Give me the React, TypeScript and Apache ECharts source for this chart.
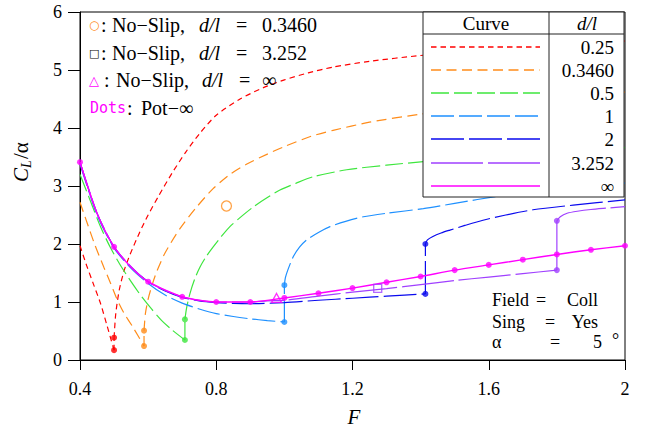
import React, { useEffect, useRef } from "react";
import * as echarts from "echarts";

// ---- Data ----
// d/l = 0.25 (red)
const redLeftF = [0.4, 0.42, 0.44, 0.46, 0.48, 0.5];
const redLeftY = [1.97, 1.62, 1.3, 0.98, 0.58, 0.17];
const redRightF = [0.5, 0.505, 0.515, 0.53, 0.547, 0.575, 0.6, 0.63, 0.67, 0.71, 0.752, 0.8, 0.87, 0.94, 1.0, 1.07, 1.143, 1.25, 1.4, 1.6, 1.8, 2.0];
const redRightY = [0.385, 0.8, 1.2, 1.55, 1.82, 2.2, 2.5, 2.82, 3.22, 3.58, 3.91, 4.22, 4.5, 4.7, 4.83, 4.95, 5.05, 5.15, 5.25, 5.35, 5.43, 5.5];

// d/l = 0.3460 (orange)
const orangeLeftF = [0.4, 0.42, 0.444, 0.47, 0.49, 0.51, 0.53, 0.556, 0.588];
const orangeLeftY = [2.72, 2.38, 1.98, 1.6, 1.32, 1.03, 0.8, 0.56, 0.24];
const orangeRightF = [0.588, 0.592, 0.6, 0.612, 0.625, 0.65, 0.694, 0.74, 0.79, 0.84, 0.89, 0.95, 1.0, 1.08, 1.143, 1.25, 1.4, 1.6, 1.8, 2.0];
const orangeRightY = [0.506, 0.8, 1.05, 1.3, 1.52, 1.85, 2.27, 2.62, 2.95, 3.2, 3.38, 3.55, 3.68, 3.86, 3.96, 4.1, 4.24, 4.4, 4.52, 4.62];

// d/l = 0.5 (green)
const greenLeftF = [0.4, 0.43, 0.46, 0.49, 0.52, 0.55, 0.58, 0.61, 0.64, 0.67, 0.708];
const greenLeftY = [3.2, 2.75, 2.3, 1.93, 1.62, 1.35, 1.1, 0.88, 0.68, 0.52, 0.345];
const greenRightF = [0.708, 0.713, 0.723, 0.737, 0.752, 0.77, 0.791, 0.815, 0.84, 0.875, 0.909, 0.95, 0.987, 1.035, 1.085, 1.183, 1.3, 1.408, 1.6, 1.8, 2.0];
const greenRightY = [0.7, 0.9, 1.15, 1.4, 1.6, 1.78, 1.95, 2.13, 2.3, 2.48, 2.64, 2.8, 2.93, 3.05, 3.16, 3.28, 3.36, 3.42, 3.52, 3.6, 3.66];

// d/l = 1 (light blue)
const lblueLeftF = [0.4, 0.45, 0.5, 0.55, 0.6, 0.65, 0.7, 0.75, 0.8, 0.85, 0.9, 0.95, 1.0];
const lblueLeftY = [3.38, 2.5, 1.93, 1.58, 1.32, 1.12, 0.98, 0.88, 0.8, 0.75, 0.71, 0.68, 0.655];
const lblueRightF = [1.0, 1.003, 1.01, 1.026, 1.045, 1.065, 1.1, 1.134, 1.18, 1.232, 1.3, 1.408, 1.5, 1.633, 1.8, 2.0];
const lblueRightY = [1.29, 1.42, 1.55, 1.78, 1.95, 2.07, 2.2, 2.3, 2.39, 2.47, 2.53, 2.61, 2.7, 2.83, 2.95, 3.05];

// d/l = 2 (blue)
const blueLeftF = [0.4, 0.45, 0.5, 0.55, 0.6, 0.65, 0.7, 0.75, 0.8, 0.85, 0.9, 1.0, 1.1, 1.2, 1.3, 1.414];
const blueLeftY = [3.41, 2.53, 1.95, 1.6, 1.35, 1.19, 1.08, 1.02, 0.99, 0.975, 0.97, 0.99, 1.03, 1.065, 1.1, 1.14];
const blueRightF = [1.414, 1.42, 1.436, 1.46, 1.486, 1.53, 1.583, 1.65, 1.73, 1.848, 2.0];
const blueRightY = [2.0, 2.07, 2.13, 2.19, 2.24, 2.32, 2.41, 2.5, 2.59, 2.67, 2.76];

// d/l = 3.252 (purple)
const purpleLeftF = [0.4, 0.45, 0.5, 0.55, 0.6, 0.65, 0.7, 0.75, 0.8, 0.9, 0.95, 1.0, 1.1, 1.2, 1.3, 1.4, 1.5, 1.6, 1.7, 1.8];
const purpleLeftY = [3.41, 2.53, 1.95, 1.61, 1.35, 1.2, 1.09, 1.03, 1.0, 1.0, 1.02, 1.03, 1.1, 1.17, 1.23, 1.3, 1.37, 1.43, 1.49, 1.55];
const purpleRightF = [1.8, 1.81, 1.83, 1.86, 1.9, 1.95, 2.0];
const purpleRightY = [2.4, 2.47, 2.53, 2.565, 2.595, 2.62, 2.645];

// d/l = infinity (magenta)
const infF = [0.4, 0.45, 0.5, 0.55, 0.6, 0.7, 0.8, 0.9, 1.0, 1.1, 1.2, 1.3, 1.4, 1.5, 1.6, 1.7, 1.8, 1.9, 2.0];
const infY = [3.41, 2.53, 1.95, 1.6, 1.35, 1.09, 1.0, 1.0, 1.07, 1.15, 1.24, 1.34, 1.44, 1.55, 1.64, 1.73, 1.82, 1.9, 1.97];

// Pot-infinity dots
const potF = [0.4, 0.5, 0.6, 0.7, 0.8, 0.9, 1.0, 1.1, 1.2, 1.3, 1.4, 1.5, 1.6, 1.7, 1.8, 1.9, 2.0];
const potY = [3.41, 1.95, 1.35, 1.09, 1.0, 1.0, 1.07, 1.15, 1.24, 1.34, 1.44, 1.55, 1.64, 1.73, 1.82, 1.9, 1.97];

// No-slip markers: circle (0.3460), square (3.252), triangle (inf)
const noSlipCircle = [0.83, 2.655];
const noSlipSquare = [1.274, 1.236];
const noSlipTriangle = [0.977, 1.07];

const curveNames = ["0.25", "0.3460", "0.5", "1", "2", "3.252", "∞"];
const noSlipValues = ["0.3460", "3.252", "∞"];
const xTicks = [0.4, 0.8, 1.2, 1.6, 2];

const SERIF = '"Liberation Serif", serif';
const SANS = '"DejaVu Sans", sans-serif';

const zip = (f: number[], y: number[]) => f.map((v, i) => [v, y[i]]);

const curveDefs = [
  { lf: redLeftF, ly: redLeftY, rf: redRightF, ry: redRightY, color: "#ff0000", dash: [5.5, 4] },
  { lf: orangeLeftF, ly: orangeLeftY, rf: orangeRightF, ry: orangeRightY, color: "#ff8c1a", dash: [10, 5.5] },
  { lf: greenLeftF, ly: greenLeftY, rf: greenRightF, ry: greenRightY, color: "#3ee63e", dash: [18, 5] },
  { lf: lblueLeftF, ly: lblueLeftY, rf: lblueRightF, ry: lblueRightY, color: "#1e90ff", dash: [23, 5] },
  { lf: blueLeftF, ly: blueLeftY, rf: blueRightF, ry: blueRightY, color: "#0a0aee", dash: [33, 5] },
  { lf: purpleLeftF, ly: purpleLeftY, rf: purpleRightF, ry: purpleRightY, color: "#a040ff", dash: [52, 5] },
];
const MAGENTA = "#ff00ff";

export default function App() {
  const ref = useRef<HTMLDivElement>(null);
  useEffect(() => {
    if (!ref.current) return;
    const chart = echarts.init(ref.current, null, { renderer: "svg" });

    const series: any[] = [];
    curveDefs.forEach((c) => {
      const ls = { color: c.color, width: 1.2, type: c.dash };
      series.push({ type: "line", data: zip(c.lf, c.ly), symbol: "none", smooth: 0.25, lineStyle: ls, z: 3 });
      series.push({
        type: "line",
        data: [
          [c.lf[c.lf.length - 1], c.ly[c.ly.length - 1]],
          [c.rf[0], c.ry[0]],
        ],
        symbol: "none",
        lineStyle: ls,
        z: 3,
      });
      series.push({ type: "line", data: zip(c.rf, c.ry), symbol: "none", smooth: 0.25, lineStyle: ls, z: 3 });
    });
    series.push({
      type: "line",
      data: zip(infF, infY),
      symbol: "none",
      smooth: 0.25,
      lineStyle: { color: MAGENTA, width: 1.4, type: "solid" },
      z: 3,
    });
    curveDefs.forEach((c) => {
      series.push({
        type: "scatter",
        data: [
          [c.lf[c.lf.length - 1], c.ly[c.ly.length - 1]],
          [c.rf[0], c.ry[0]],
        ],
        symbol: "circle",
        symbolSize: 6,
        itemStyle: { color: c.color },
        z: 4,
      });
    });
    series.push({ type: "scatter", data: zip(potF, potY), symbol: "circle", symbolSize: 6, itemStyle: { color: MAGENTA }, z: 4 });
    series.push({
      type: "scatter",
      data: [noSlipCircle],
      symbol: "circle",
      symbolSize: 10,
      itemStyle: { color: "transparent", borderColor: "#ff8c1a", borderWidth: 1.3 },
      z: 5,
    });
    series.push({
      type: "scatter",
      data: [noSlipSquare],
      symbol: "rect",
      symbolSize: 8,
      itemStyle: { color: "transparent", borderColor: "#a040ff", borderWidth: 1.3 },
      z: 5,
    });
    series.push({
      type: "scatter",
      data: [noSlipTriangle],
      symbol: "triangle",
      symbolSize: [10, 9],
      itemStyle: { color: "transparent", borderColor: MAGENTA, borderWidth: 1.3 },
      z: 5,
    });

    const txt = (text: string, x: number, y: number, o: any = {}) => ({
      type: "text",
      z: o.z ?? 50,
      style: {
        text,
        x,
        y,
        textAlign: o.align || "left",
        textVerticalAlign: "middle",
        fontFamily: o.family || SERIF,
        fontSize: o.size || 18,
        fontStyle: o.italic ? "italic" : "normal",
        fill: o.color || "#000",
      },
    });

    // ---- table (legend) ----
    const tx0 = 423, tx1 = 624, ty0 = 12, ty1 = 197, tdiv = 549, thead = 34;
    const rowY = [47, 70, 93, 116, 139, 163, 186];
    const colors = curveDefs.map((c) => c.color).concat([MAGENTA]);
    const dashes: any[] = curveDefs.map((c) => c.dash).concat([null as any]);
    const tableEls: any[] = [
      { type: "rect", shape: { x: tx0, y: ty0, width: tx1 - tx0, height: ty1 - ty0 }, style: { fill: "#fff", stroke: "#222", lineWidth: 1 }, z: 100 },
      { type: "line", shape: { x1: tx0, y1: thead, x2: tx1, y2: thead }, style: { stroke: "#222", lineWidth: 1 }, z: 101 },
      { type: "line", shape: { x1: tdiv, y1: ty0, x2: tdiv, y2: ty1 }, style: { stroke: "#222", lineWidth: 1 }, z: 101 },
      txt("Curve", 486, 23, { align: "center", size: 19, z: 101 }),
      txt("d/l", 587, 23, { align: "center", size: 19, italic: true, z: 101 }),
    ];
    curveNames.forEach((n, i) => {
      tableEls.push({
        type: "line",
        shape: { x1: 431, y1: rowY[i], x2: 540, y2: rowY[i] },
        style: { stroke: colors[i], lineWidth: 1.3, lineDash: dashes[i] || null },
        z: 101,
      });
      tableEls.push(txt(n, 614, rowY[i], { align: "right", size: 19, z: 101 }));
    });

    // ---- top-left annotation (pieces placed as in the reference) ----
    const A = 20;
    const annEls: any[] = [
      // row 1
      txt("○", 89, 25, { family: SANS, size: 12, color: "#ff8c1a" }),
      txt(":", 101, 25, { size: A }),
      txt("No−Slip,", 112, 25, { size: A }),
      txt("d/l", 199, 25, { size: A, italic: true }),
      txt("=", 236, 25, { size: A }),
      txt(noSlipValues[0], 262, 25, { size: A }),
      // row 2
      txt("□", 89, 53, { family: SANS, size: 11 }),
      txt(":", 101, 53, { size: A }),
      txt("No−Slip,", 112, 53, { size: A }),
      txt("d/l", 199, 53, { size: A, italic: true }),
      txt("=", 236, 53, { size: A }),
      txt(noSlipValues[1], 262, 53, { size: A }),
      // row 3
      txt("△", 89, 80, { family: SANS, size: 13, color: MAGENTA }),
      txt(":", 104, 80, { size: A }),
      txt("No−Slip,", 116, 80, { size: A }),
      txt("d/l", 202, 80, { size: A, italic: true }),
      txt("=", 239, 80, { size: A }),
      txt(noSlipValues[2], 262, 80, { size: A }),
      // row 4
      txt("Dots", 90, 108, { family: '"DejaVu Sans Mono", monospace', size: 15, color: MAGENTA }),
      txt(":", 127, 108, { size: A }),
      txt("Pot−∞", 141, 108, { size: A }),
    ];

    // ---- bottom-right parameters ----
    const paramEls = [
      txt("Field", 492, 300), txt("=", 536, 300), txt("Coll", 598, 300, { align: "right" }),
      txt("Sing", 492, 322), txt("=", 545, 322), txt("Yes", 598, 322, { align: "right" }),
      txt("α", 492, 342), txt("=", 550, 342), txt("5", 602, 342, { align: "right" }), txt("°", 612, 340),
    ];

    // ---- axis titles ----
    const yTitle = {
      type: "group",
      x: 21,
      y: 161,
      rotation: Math.PI / 2,
      children: [
        txt("C", -21, 0, { size: 21, italic: true }),
        txt("L", -7, 5, { size: 14, italic: true }),
        txt("/α", 2, 0, { size: 21 }),
      ],
    };
    const xTitle = txt("F", 354, 417, { align: "center", size: 21, italic: true });

    const option: any = {
      animation: false,
      grid: { left: 80, top: 12, right: 34, bottom: 74, show: true, borderColor: "#000", borderWidth: 1, backgroundColor: "transparent" },
      xAxis: {
        type: "value",
        min: xTicks[0],
        max: xTicks[xTicks.length - 1],
        interval: 0.4,
        axisLine: { lineStyle: { color: "#000", width: 1 } },
        axisTick: { show: true, length: 10, lineStyle: { color: "#000", width: 1 } },
        axisLabel: {
          color: "#000",
          fontFamily: SERIF,
          fontSize: 18,
          margin: 20,
          formatter: (v: number) => String(Math.round(v * 10) / 10),
        },
        splitLine: { show: false },
      },
      yAxis: {
        type: "value",
        min: 0,
        max: 6,
        interval: 1,
        axisLine: { lineStyle: { color: "#000", width: 1 } },
        axisTick: { show: true, length: 12, lineStyle: { color: "#000", width: 1 } },
        axisLabel: { color: "#000", fontFamily: SERIF, fontSize: 18, margin: 18 },
        splitLine: { show: false },
      },
      series,
      graphic: [...tableEls, ...annEls, ...paramEls, yTitle, xTitle],
    };
    chart.setOption(option);
    return () => chart.dispose();
  }, []);
  return (
    <div
      ref={ref}
      style={{ position: "fixed", left: 0, top: 0, width: 659, height: 434, background: "#fff" }}
    />
  );
}
